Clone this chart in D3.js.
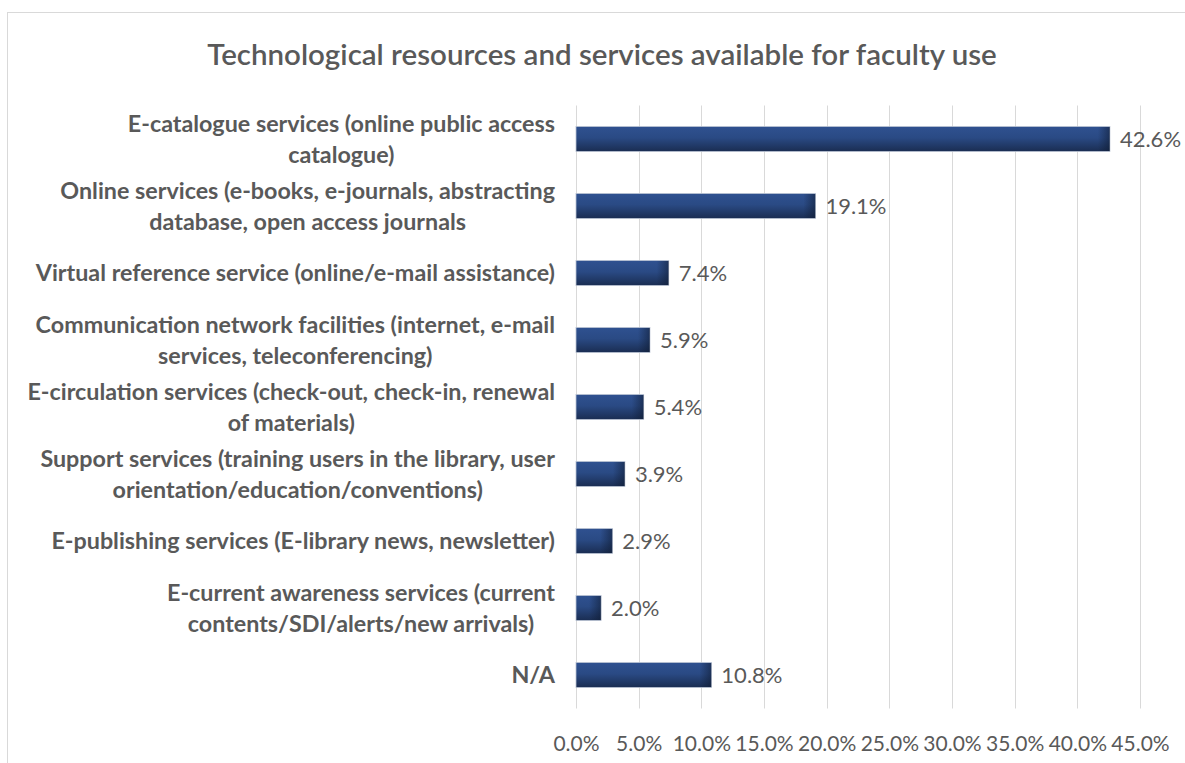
<!DOCTYPE html>
<html>
<head>
<meta charset="utf-8">
<script src="https://cdn.jsdelivr.net/npm/d3@7"></script>
<style>
  html, body { margin: 0; padding: 0; background: #ffffff; }
  svg { display: block; }
  text { font-family: Lato, "Open Sans", "DejaVu Sans", sans-serif; }
</style>
</head>
<body>
<svg id="chart" width="1185" height="763"></svg>
<script>
// Chart data
const chartTitle = "Technological resources and services available for faculty use";

const categoryLines = [
  ["E-catalogue services (online public access", "catalogue)"],
  ["Online services (e-books, e-journals, abstracting", "database, open access journals"],
  ["Virtual reference service (online/e-mail assistance)"],
  ["Communication network facilities (internet, e-mail", "services, teleconferencing)"],
  ["E-circulation services (check-out, check-in, renewal", "of materials)"],
  ["Support services (training users in the library, user", "orientation/education/conventions)"],
  ["E-publishing services (E-library news, newsletter)"],
  ["E-current awareness services (current", "contents/SDI/alerts/new arrivals)"],
  ["N/A"]
];

const shares = [42.6, 19.1, 7.4, 5.9, 5.4, 3.9, 2.9, 2.0, 10.8];

const tickValues = [0, 5, 10, 15, 20, 25, 30, 35, 40, 45];

// Layout
const W = 1185, H = 763;
const plot = { left: 576, right: 1140, top: 105.5, bottom: 708.5 };
const labelRight = 555;
const textColor = "#595959";

const svg = d3.select("#chart");

// Gradients for the bars: lighter top, darker bottom, shaded right end
const defs = svg.append("defs");
const vGrad = defs.append("linearGradient")
  .attr("id", "barFill").attr("x1", 0).attr("y1", 0).attr("x2", 0).attr("y2", 1);
vGrad.append("stop").attr("offset", "0%").attr("stop-color", "#2f5190");
vGrad.append("stop").attr("offset", "45%").attr("stop-color", "#2a4a84");
vGrad.append("stop").attr("offset", "100%").attr("stop-color", "#1a2d52");

const hGrad = defs.append("linearGradient")
  .attr("id", "barEnd").attr("x1", 0).attr("y1", 0).attr("x2", 1).attr("y2", 0);
hGrad.append("stop").attr("offset", "0%").attr("stop-color", "#0e1a30").attr("stop-opacity", 0);
hGrad.append("stop").attr("offset", "100%").attr("stop-color", "#0e1a30").attr("stop-opacity", 0.55);

// Chart-area frame
svg.append("rect")
  .attr("x", 7.5).attr("y", 12.5)
  .attr("width", W + 20).attr("height", H + 20)
  .attr("fill", "#ffffff")
  .attr("stroke", "#d9d9d9")
  .attr("stroke-width", 1);

// Scales
const x = d3.scaleLinear().domain([0, 45]).range([plot.left, plot.right]);
const y = d3.scaleBand()
  .domain(d3.range(shares.length))
  .range([plot.top, plot.bottom])
  .paddingInner(0.627)
  .paddingOuter(0.3135);

// Vertical gridlines
svg.append("g")
  .selectAll("line")
  .data(tickValues)
  .join("line")
  .attr("x1", d => Math.round(x(d)) + 0.5)
  .attr("x2", d => Math.round(x(d)) + 0.5)
  .attr("y1", plot.top)
  .attr("y2", plot.bottom)
  .attr("stroke", "#d9d9d9")
  .attr("stroke-width", 1);

// X axis tick labels
const xAxis = d3.axisBottom(x)
  .tickValues(tickValues)
  .tickFormat(d => d3.format(".1f")(d) + "%")
  .tickSize(0)
  .tickPadding(0);

const xAxisG = svg.append("g")
  .attr("transform", `translate(0, ${plot.bottom + 28})`)
  .call(xAxis);
xAxisG.select(".domain").remove();
xAxisG.selectAll("text")
  .attr("fill", textColor)
  .attr("font-size", "21px")
  .attr("font-family", "Lato, 'Open Sans', sans-serif");

// Bars
const bars = svg.append("g")
  .selectAll("g")
  .data(shares)
  .join("g");

bars.append("rect")
  .attr("x", x(0))
  .attr("y", (d, i) => y(i))
  .attr("width", d => x(d) - x(0))
  .attr("height", y.bandwidth())
  .attr("fill", "url(#barFill)")
  .attr("stroke", "#b9c2d3")
  .attr("stroke-width", 0.8);

bars.append("rect")
  .attr("x", d => x(d) - Math.min(12, x(d) - x(0)))
  .attr("y", (d, i) => y(i) + 0.5)
  .attr("width", d => Math.min(12, x(d) - x(0)))
  .attr("height", y.bandwidth() - 1)
  .attr("fill", "url(#barEnd)");

// Value labels
bars.append("text")
  .attr("x", d => x(d) + 10)
  .attr("y", (d, i) => y(i) + y.bandwidth() / 2)
  .attr("dy", "0.35em")
  .attr("fill", textColor)
  .attr("font-size", "22px")
  .text(d => d3.format(".1f")(d) + "%");

// Category labels: wrapped lines centered on each other, block right-aligned
const labelSize = 23.3;
const lineGap = 31;
const catG = svg.append("g")
  .attr("font-size", labelSize + "px")
  .attr("font-weight", "bold")
  .attr("fill", textColor);

categoryLines.forEach((lines, i) => {
  const cy = y(i) + y.bandwidth() / 2;
  const t = catG.append("text").attr("text-anchor", "middle");
  const spans = lines.map((ln, k) =>
    t.append("tspan")
      .attr("y", cy + (k - (lines.length - 1) / 2) * lineGap)
      .attr("dy", "0.35em")
      .text(ln)
  );
  const maxW = d3.max(spans, s => s.node().getComputedTextLength());
  spans.forEach(s => s.attr("x", labelRight - maxW / 2));
});

// Title
svg.append("text")
  .attr("x", 602)
  .attr("y", 55)
  .attr("dy", "0.35em")
  .attr("text-anchor", "middle")
  .attr("fill", textColor)
  .attr("font-size", "29.5px")
  .attr("font-weight", "600")
  .text(chartTitle);
</script>
</body>
</html>
